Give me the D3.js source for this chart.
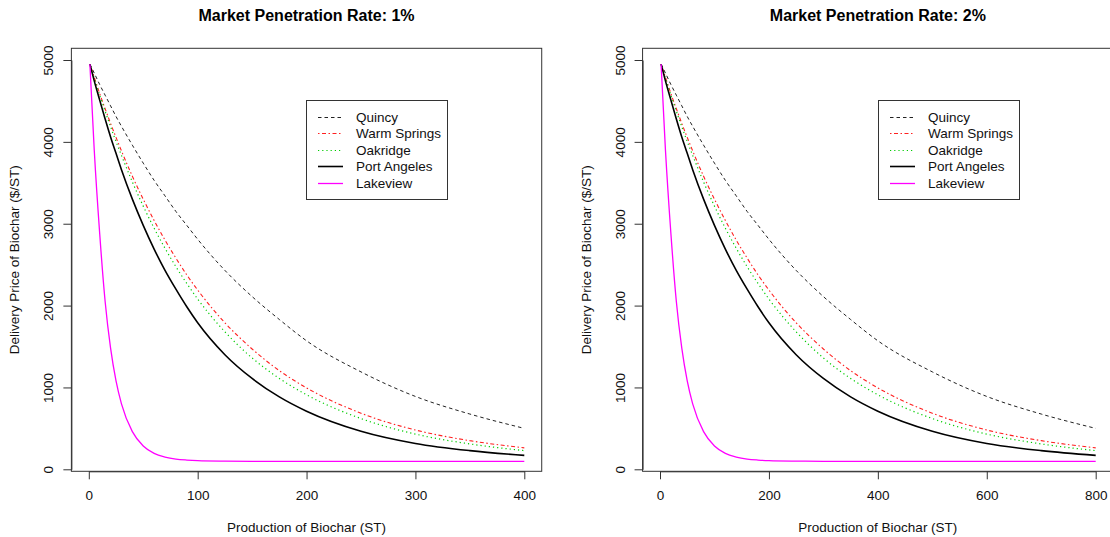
<!DOCTYPE html>
<html>
<head>
<meta charset="utf-8">
<script src="https://cdn.jsdelivr.net/npm/d3@7"></script>
<style>
body{margin:0;background:#fff;}
svg{display:block;font-family:"Liberation Sans",Arial,sans-serif;}
</style>
</head>
<body>
<svg id="chart" width="1110" height="537"></svg>
<script>
(function(){

var titles = ["Market Penetration Rate: 1%", "Market Penetration Rate: 2%"];
var xLabel = "Production of Biochar (ST)";
var yLabel = "Delivery Price of Biochar ($/ST)";
var names = ["Quincy", "Warm Springs", "Oakridge", "Port Angeles", "Lakeview"];

// production (ST) for each panel
var prod1 = [1, 5, 10, 15, 20, 25, 30, 40, 50, 60, 70, 80, 90, 100, 125, 150, 175, 200, 250, 300, 350, 400];
var prod2 = [2, 10, 20, 30, 40, 50, 60, 80, 100, 120, 140, 160, 180, 200, 250, 300, 350, 400, 500, 600, 700, 800];
var xTicks1 = [0, 100, 200, 300, 400];
var xTicks2 = [0, 200, 400, 600, 800];
var yTicks = [0, 1000, 2000, 3000, 4000, 5000];

// delivery price ($/ST)
var quincy = [4950, 4840, 4700, 4570, 4440, 4310, 4190, 3960, 3740, 3530, 3340, 3150, 2980, 2810, 2430, 2110, 1830, 1570, 1190, 890, 675, 500];
var warmSprings = [4950, 4790, 4590, 4405, 4225, 4055, 3890, 3580, 3300, 3040, 2800, 2580, 2375, 2190, 1790, 1470, 1205, 995, 685, 480, 350, 262];
var oakridge = [4950, 4775, 4570, 4375, 4185, 4005, 3835, 3510, 3215, 2945, 2700, 2475, 2270, 2080, 1680, 1360, 1110, 910, 620, 430, 310, 228];
var portAngeles = [4950, 4745, 4510, 4280, 4060, 3860, 3660, 3300, 2980, 2690, 2430, 2200, 1985, 1790, 1400, 1110, 885, 710, 465, 316, 228, 170];
var lakeview = [4950, 3900, 2880, 2050, 1480, 1080, 800, 460, 285, 195, 150, 125, 113, 106, 100, 98, 97, 97, 97, 97, 97, 97];

var values = [quincy, warmSprings, oakridge, portAngeles, lakeview];
var styles = [
	{color: "#222", width: 1, dash: "3.5,3"},
	{color: "#ff2020", width: 1.1, dash: "1.5,2.5,4,2.5"},
	{color: "#00cd00", width: 1.2, dash: "1.2,3"},
	{color: "#000", width: 1.6, dash: null},
	{color: "#ff00ff", width: 1.3, dash: null}
];

var svg = d3.select("#chart");
svg.append("rect").attr("width", 1110).attr("height", 537).attr("fill", "#fff");

var y = d3.scaleLinear().domain([0, 5000]).range([469.3, 60]);
var boxTop = 48.3, boxBottom = 471.3;
var axisColor = "#333";
var fmt = d3.format("d");

function panel(prod, xTicks, title, left, right, legendX){
	var xMax = xTicks[xTicks.length - 1];
	var x = d3.scaleLinear().domain([0, xMax]).range([left, right]);
	var bx0 = x(-xMax * 0.04), bx1 = x(xMax * 1.04);
	var mid = (bx0 + bx1) / 2;
	var g = svg.append("g");

	//CURVES
	var line = d3.line()
		.x(function(d, i){ return x(prod[i]); })
		.y(function(d){ return y(d); })
		.curve(d3.curveMonotoneX);

	values.forEach(function(v, i){
		g.append("path")
			.datum(v)
			.attr("d", line)
			.attr("fill", "none")
			.attr("stroke", styles[i].color)
			.attr("stroke-width", styles[i].width)
			.attr("stroke-dasharray", styles[i].dash);
	});

	//BOX
	g.append("rect")
		.attr("x", bx0)
		.attr("y", boxTop)
		.attr("width", bx1 - bx0)
		.attr("height", boxBottom - boxTop)
		.attr("fill", "none")
		.attr("stroke", axisColor);

	//AXES
	var xg = g.append("g")
		.attr("transform", "translate(0," + boxBottom + ")")
		.call(d3.axisBottom(x).tickValues(xTicks).tickFormat(fmt).tickSize(8).tickSizeOuter(0));
	xg.selectAll("text")
		.attr("y", 29)
		.attr("dy", 0)
		.attr("font-size", "13.5px")
		.attr("font-family", "Liberation Sans, Arial, sans-serif")
		.attr("fill", "#111");

	var yg = g.append("g")
		.attr("transform", "translate(" + bx0 + ",0)")
		.call(d3.axisLeft(y).tickValues(yTicks).tickFormat(fmt).tickSize(8).tickSizeOuter(0));
	yg.selectAll("text")
		.attr("x", 0)
		.attr("dy", 0)
		.attr("text-anchor", "middle")
		.attr("transform", "translate(-18,0) rotate(-90)")
		.attr("font-size", "13.5px")
		.attr("font-family", "Liberation Sans, Arial, sans-serif")
		.attr("fill", "#111");

	g.selectAll(".domain, .tick line").attr("stroke", axisColor);

	//TEXTS
	g.append("text")
		.attr("x", mid)
		.attr("y", 21)
		.attr("text-anchor", "middle")
		.attr("font-size", "16px")
		.attr("font-weight", "bold")
		.text(title);

	g.append("text")
		.attr("x", mid)
		.attr("y", 532)
		.attr("text-anchor", "middle")
		.attr("font-size", "13.5px")
		.attr("fill", "#111")
		.text(xLabel);

	g.append("text")
		.attr("transform", "translate(" + (bx0 - 52) + "," + ((boxTop + boxBottom) / 2) + ") rotate(-90)")
		.attr("text-anchor", "middle")
		.attr("font-size", "13.5px")
		.attr("fill", "#111")
		.text(yLabel);

	//LEGEND
	var lg = g.append("g").attr("transform", "translate(" + Math.round(legendX) + ",100)");
	lg.append("rect")
		.attr("x", 0.5)
		.attr("y", 0.5)
		.attr("width", 141)
		.attr("height", 99)
		.attr("fill", "#fff")
		.attr("stroke", axisColor);

	names.forEach(function(n, i){
		var ry = Math.round(17 + i * 16.45) + 0.5;
		lg.append("line")
			.attr("x1", 12)
			.attr("x2", 37)
			.attr("y1", ry)
			.attr("y2", ry)
			.attr("stroke", styles[i].color)
			.attr("stroke-width", styles[i].width)
			.attr("stroke-dasharray", styles[i].dash);
		lg.append("text")
			.attr("x", 50)
			.attr("y", ry)
			.attr("dy", "0.35em")
			.attr("font-size", "13.5px")
			.attr("fill", "#111")
			.text(n);
	});
};

panel(prod1, xTicks1, titles[0], 88.8, 524.3, 306);
panel(prod2, xTicks2, titles[1], 660, 1095.7, 877.5);

})()
</script>
</body>
</html>
